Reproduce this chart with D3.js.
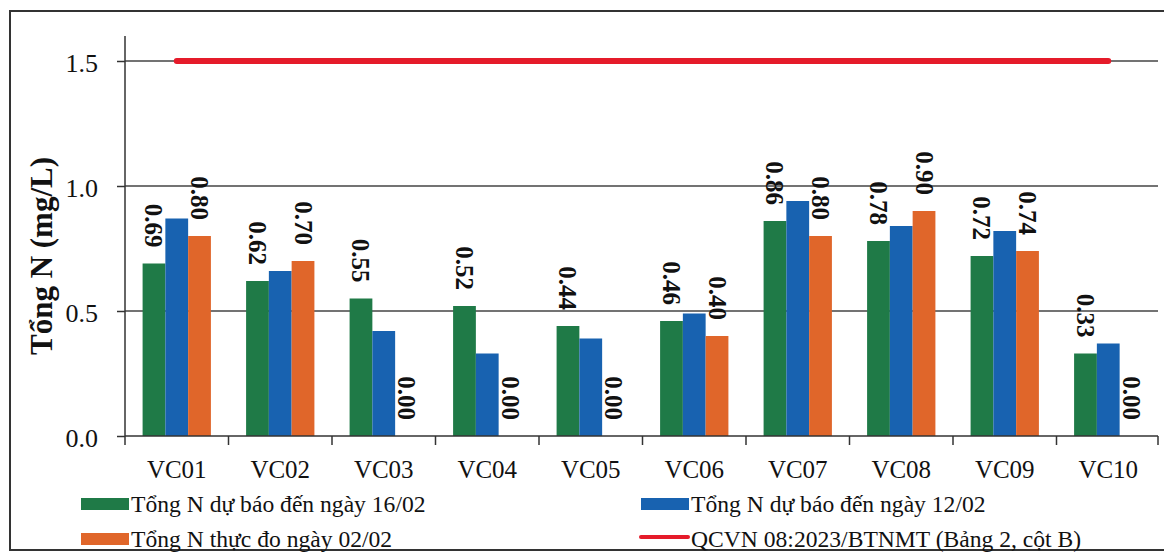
<!DOCTYPE html>
<html>
<head>
<meta charset="UTF-8">
<title>Tong N</title>
<script src="https://d3js.org/d3.v7.min.js"></script>
<style>
  body { margin:0; background:#fff; }
  svg text { font-family: "Liberation Serif", "Times New Roman", "DejaVu Serif", serif !important; fill:#111; }
</style>
</head>
<body>
<div id="chart"></div>
<script>
// data
const stations = ['VC01','VC02','VC03','VC04','VC05','VC06','VC07','VC08','VC09','VC10'];
const forecast16 = [0.69,0.62,0.55,0.52,0.44,0.46,0.86,0.78,0.72,0.33];
const forecast12 = [0.87,0.66,0.42,0.33,0.39,0.49,0.94,0.84,0.82,0.37];
const measured02 = [0.80,0.70,0.00,0.00,0.00,0.40,0.80,0.90,0.74,0.00];
const limitValue = 1.5;
const yTicks = [0,0.5,1.0,1.5];

const seriesNames = ['Tổng N dự báo đến ngày 16/02','Tổng N dự báo đến ngày 12/02','Tổng N thực đo ngày 02/02'];
const limitName = 'QCVN 08:2023/BTNMT (Bảng 2, cột B)';
const colors = ['#1f7a47','#1862b0','#e0662a'];
const limitColor = '#e51b2a';

const W = 1164, H = 554;
const svg = d3.select('#chart').append('svg').attr('width',W).attr('height',H);

// outer frame
svg.append('rect').attr('x',10).attr('y',11).attr('width',1170).attr('height',539)
  .attr('fill','none').attr('stroke','#333').attr('stroke-width',2);

const x = d3.scaleBand().domain(stations).range([125,1160]);
const y = d3.scaleLinear().domain([0,1.6]).range([436,36]);

// grid
svg.append('g').selectAll('line').data(yTicks.slice(1)).enter().append('line')
  .attr('x1',125).attr('x2',1158)
  .attr('y1',d=>y(d)).attr('y2',d=>y(d))
  .attr('stroke','#444').attr('stroke-width',1.3);

// bars
const inner = d3.scaleBand().domain([0,1,2]).range([0,x.bandwidth()*0.66]);
const off = x.bandwidth()*0.17;
const series = [forecast16, forecast12, measured02];
series.forEach((vals,si) => {
  svg.append('g').selectAll('rect').data(vals).enter().append('rect')
    .attr('x',(d,i)=>x(stations[i]) + off + inner(si))
    .attr('width',inner.bandwidth())
    .attr('y',d=>y(d))
    .attr('height',d=>y(0)-y(d))
    .attr('fill',colors[si]);
});

// limit line
svg.append('line')
  .attr('x1',x(stations[0])+x.bandwidth()/2)
  .attr('x2',x(stations[stations.length-1])+x.bandwidth()/2)
  .attr('y1',y(limitValue)).attr('y2',y(limitValue))
  .attr('stroke',limitColor).attr('stroke-width',6).attr('stroke-linecap','round');

// value labels (green and orange only)
[0,2].forEach(si => {
  svg.append('g').selectAll('text').data(series[si]).enter().append('text')
    .attr('transform',(d,i)=>`translate(${x(stations[i])+off+inner(si)+inner.bandwidth()/2},${y(d)-16}) rotate(90)`)
    .attr('text-anchor','end')
    .attr('dominant-baseline','central')
    .attr('font-size',25).attr('font-weight','bold')
    .text(d=>d.toFixed(2));
});

// y axis
const yAxis = d3.axisLeft(y).tickValues(yTicks).tickFormat(d3.format('.1f')).tickSize(8).tickPadding(19);
const gy = svg.append('g').attr('transform','translate(125,0)').call(yAxis);
gy.attr('font-family',null);
gy.select('.domain').attr('d','M0,36V436').attr('stroke','#333').attr('stroke-width',1.5);
gy.selectAll('.tick line').attr('stroke','#333').attr('stroke-width',1.5);
gy.selectAll('.tick text').attr('font-size',26).attr('fill','#111').attr('dy','0.4em');

// x axis with ticks at band boundaries
const gx = svg.append('g');
gx.append('line').attr('x1',125).attr('x2',1158).attr('y1',y(0)).attr('y2',y(0))
  .attr('stroke','#333').attr('stroke-width',1.5);
const bounds = stations.map(s=>x(s)).concat([x.range()[1]-2]);
gx.selectAll('line.tk').data(bounds).enter().append('line').attr('class','tk')
  .attr('x1',d=>d).attr('x2',d=>d).attr('y1',y(0)).attr('y2',y(0)+9)
  .attr('stroke','#333').attr('stroke-width',1.5);
gx.selectAll('text').data(stations).enter().append('text')
  .attr('x',d=>x(d)+x.bandwidth()/2).attr('y',478)
  .attr('text-anchor','middle').attr('font-size',25)
  .text(d=>d);

// y title
svg.append('text')
  .attr('transform','translate(52,256) rotate(-90)')
  .attr('text-anchor','middle')
  .attr('font-size',31).attr('font-weight','bold')
  .text('Tổng N (mg/L)');

// legend
const legend = [
  {name:seriesNames[0], color:colors[0], type:'rect', x:81, y:512},
  {name:seriesNames[1], color:colors[1], type:'rect', x:641, y:512},
  {name:seriesNames[2], color:colors[2], type:'rect', x:81, y:547},
  {name:limitName, color:limitColor, type:'line', x:641, y:547}
];
const lg = svg.append('g').selectAll('g').data(legend).enter().append('g')
  .attr('transform',d=>`translate(${d.x},${d.y})`);
lg.filter(d=>d.type==='rect').append('rect')
  .attr('x',0).attr('y',-14).attr('width',48).attr('height',12).attr('fill',d=>d.color);
lg.filter(d=>d.type==='line').append('line')
  .attr('x1',0).attr('x2',47).attr('y1',-10).attr('y2',-10)
  .attr('stroke',d=>d.color).attr('stroke-width',4).attr('stroke-linecap','round');
lg.append('text').attr('x',50).attr('y',0).attr('font-size',23.6).text(d=>d.name);
</script>
</body>
</html>
